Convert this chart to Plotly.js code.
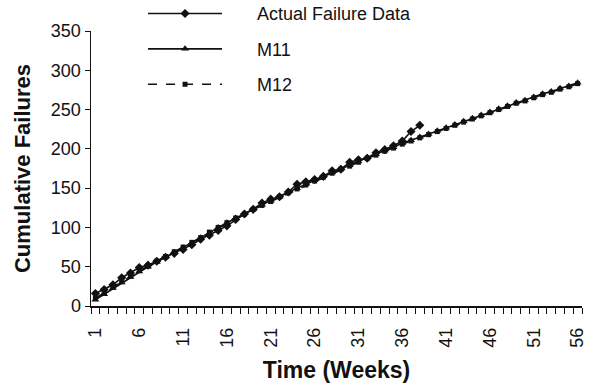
<!DOCTYPE html>
<html>
<head>
<meta charset="utf-8">
<script src="https://cdn.plot.ly/plotly-3.0.1.min.js"></script>
<style>body{margin:0;padding:0;background:#fff;} #chart{width:589px;height:384px;}</style>
</head>
<body>
<div id="chart"></div>
<script>
const weeks = Array.from({length: 56}, (_, i) => i + 1);
const tickLabels = [1, 6, 11, 16, 21, 26, 31, 36, 41, 46, 51, 56];

const actualWeeks = weeks.slice(0, 38);
const actualFailures = [16, 21, 27, 36, 42, 49, 52, 57, 62, 67,
  72, 78, 85, 90, 96, 102, 110, 117, 123, 131,
  136, 139, 145, 155, 158, 161, 165, 172, 174, 183,
  186, 188, 195, 199, 204, 210, 222, 230];

const m11 = [8, 15, 23, 30, 37, 44, 50, 56, 62, 68,
  74, 80, 87, 93, 100, 106, 112, 118, 123, 129,
  134, 139, 145, 150, 155, 160, 165, 170, 175, 179,
  184, 189, 193, 198, 202, 207, 211, 215, 219, 223,
  227, 231, 235, 239, 243, 247, 251, 255, 259, 262,
  266, 270, 273, 277, 280, 284];

const m12 = [10, 17, 24, 31, 38, 45, 51, 57, 63, 69,
  75, 81, 87, 94, 100, 106, 112, 117, 123, 128,
  133, 139, 144, 149, 154, 159, 164, 169, 174, 178,
  183, 188, 192, 197, 201, 206, 210, 214, 218, 222,
  226, 230, 234, 238, 242, 246, 250, 254, 258, 261,
  265, 269, 272, 276, 279, 283];

const boundaries = weeks.map(w => w - 0.5).concat([weeks[weeks.length - 1] + 0.5]);

const font = 'Liberation Sans, Arial, sans-serif';
const pad = '\u00a0\u00a0\u00a0\u00a0\u00a0\u00a0';

const traces = [
  {x: actualWeeks, y: actualFailures, name: pad + 'Actual Failure Data', mode: 'lines+markers',
   line: {color: '#111', width: 1.6}, marker: {symbol: 'diamond', size: 7, color: '#111'}, legendgroup: 'a'},
  {x: weeks, y: m11, name: pad + 'M11', mode: 'lines+markers',
   line: {color: '#111', width: 1.6}, marker: {symbol: 'triangle-up', size: 7, color: '#111'}, legendgroup: 'b'},
  {x: weeks, y: m12, name: pad + 'M12', mode: 'lines+markers',
   line: {color: '#111', width: 1.6, dash: 'dash'}, marker: {symbol: 'square', size: 5, color: '#111'}, legendgroup: 'c'}
];

const layout = {
  width: 589, height: 384,
  margin: {l: 91, r: 7, t: 31, b: 78, autoexpand: false},
  paper_bgcolor: '#fff', plot_bgcolor: '#fff',
  font: {family: font, size: 18, color: '#111'},
  showlegend: true,
  legend: {x: 0.106, y: 1.13, xanchor: 'left', yanchor: 'top', bgcolor: 'rgba(0,0,0,0)',
    font: {family: font, size: 18, color: '#111'}, tracegroupgap: 9, traceorder: 'grouped', itemwidth: 74},
  xaxis: {
    range: [0.5, 56.5], tickmode: 'array', tickvals: tickLabels, ticktext: tickLabels.map(String),
    tickangle: -90, ticks: '', showgrid: false, zeroline: false, ticklabelstandoff: 13,
    showline: true, linecolor: '#111', linewidth: 1.5,
    tickfont: {family: font, size: 18, color: '#111'},
    minor: {tickvals: boundaries, ticks: 'outside', ticklen: 6, tickcolor: '#111', tickwidth: 1, showgrid: false},
    title: {text: '<b>Time (Weeks)</b>', font: {family: font, size: 23, color: '#111'}, standoff: 15}
  },
  yaxis: {
    range: [0, 350], tickmode: 'array', tickvals: [0, 50, 100, 150, 200, 250, 300, 350],
    ticks: 'outside', ticklen: 5, tickcolor: '#111', showgrid: false, zeroline: false,
    showline: true, linecolor: '#111', linewidth: 1.5,
    tickfont: {family: font, size: 18, color: '#111'},
    title: {text: '<b>Cumulative Failures</b>', font: {family: font, size: 22, color: '#111'}, standoff: 14}
  }
};

Plotly.newPlot('chart', traces, layout, {displayModeBar: false, staticPlot: true});
</script>
</body>
</html>
